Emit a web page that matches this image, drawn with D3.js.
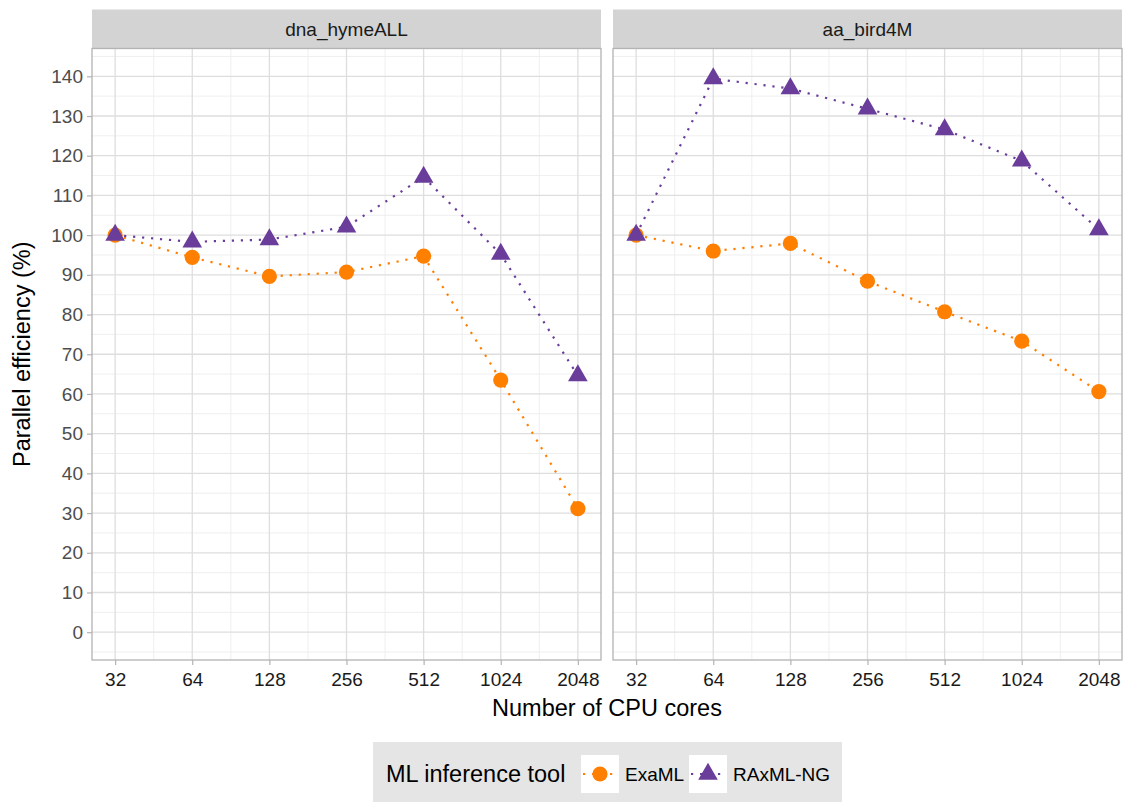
<!DOCTYPE html>
<html>
<head>
<meta charset="utf-8">
<script src="https://cdn.jsdelivr.net/npm/d3@7"></script>
<style>
  html, body { margin: 0; padding: 0; background: #fff; }
  svg { display: block; font-family: "Liberation Sans", Arial, Helvetica, sans-serif; }
</style>
</head>
<body>
<svg id="chart" width="1130" height="802"></svg>
<script>
// Parallel efficiency of two ML inference tools, per dataset
const datasets = ["dna_hymeALL", "aa_bird4M"];
const cores = [32, 64, 128, 256, 512, 1024, 2048];
const tools = ["ExaML", "RAxML-NG"];
const toolColors = ["#ff7f00", "#6a3d9a"];

const examlHyme = [100, 94.4, 89.6, 90.7, 94.7, 63.5, 31.1];
const raxmlHyme = [100, 98.3, 98.9, 102.1, 114.6, 95.2, 64.6];
const examlBird = [100, 96.0, 97.9, 88.4, 80.7, 73.3, 60.6];
const raxmlBird = [100, 139.4, 136.9, 131.8, 126.6, 118.7, 101.4];

const yTicks = [0, 10, 20, 30, 40, 50, 60, 70, 80, 90, 100, 110, 120, 130, 140];
const yMinor = [-5, 5, 15, 25, 35, 45, 55, 65, 75, 85, 95, 105, 115, 125, 135, 145];

const seriesByPanel = [
  [examlHyme, raxmlHyme],
  [examlBird, raxmlBird]
];

const svg = d3.select("#chart");

// Layout
const panelTop = 48.5, panelBottom = 660, stripTop = 9.5;
const panelLefts = [92, 613];
const panelWidth = 509;

const y = d3.scaleLinear().domain([-7, 147]).range([panelBottom, panelTop]);

const logMin = Math.log2(32), logMax = Math.log2(2048);
const pad = (logMax - logMin) * 0.05;

const dotted = "2.2 6.8";

const triangle = d3.symbol().type(d3.symbolTriangle).size(167);

panelLefts.forEach((left, pi) => {
  const x = d3.scaleLog().base(2)
    .domain([Math.pow(2, logMin - pad), Math.pow(2, logMax + pad)])
    .range([left, left + panelWidth]);

  const g = svg.append("g");

  // panel background
  g.append("rect")
    .attr("x", left).attr("y", panelTop)
    .attr("width", panelWidth).attr("height", panelBottom - panelTop)
    .attr("fill", "#fff");

  // minor grid
  const xMinor = d3.range(cores.length - 1).map(i => Math.sqrt(cores[i] * cores[i + 1]));
  g.selectAll(".ymin").data(yMinor).enter().append("line")
    .attr("x1", left).attr("x2", left + panelWidth)
    .attr("y1", d => y(d)).attr("y2", d => y(d))
    .attr("stroke", "#ededed").attr("stroke-width", 0.9);
  g.selectAll(".xmin").data(xMinor).enter().append("line")
    .attr("y1", panelTop).attr("y2", panelBottom)
    .attr("x1", d => x(d)).attr("x2", d => x(d))
    .attr("stroke", "#ededed").attr("stroke-width", 0.9);

  // major grid
  g.selectAll(".ymaj").data(yTicks).enter().append("line")
    .attr("x1", left).attr("x2", left + panelWidth)
    .attr("y1", d => y(d)).attr("y2", d => y(d))
    .attr("stroke", "#dedede").attr("stroke-width", 1.3);
  g.selectAll(".xmaj").data(cores).enter().append("line")
    .attr("y1", panelTop).attr("y2", panelBottom)
    .attr("x1", d => x(d)).attr("x2", d => x(d))
    .attr("stroke", "#dedede").attr("stroke-width", 1.3);

  // strip
  g.append("rect")
    .attr("x", left).attr("y", stripTop)
    .attr("width", panelWidth).attr("height", panelTop - stripTop)
    .attr("fill", "#d3d3d3");
  g.append("text")
    .attr("x", left + panelWidth / 2).attr("y", (stripTop + panelTop) / 2)
    .attr("dy", "0.35em").attr("text-anchor", "middle")
    .attr("font-size", 19).attr("fill", "#1a1a1a")
    .text(datasets[pi]);

  // series lines then points
  const series = seriesByPanel[pi];
  series.forEach((vals, si) => {
    const line = d3.line().x((d, i) => x(cores[i])).y(d => y(d));
    g.append("path").datum(vals)
      .attr("d", line).attr("fill", "none")
      .attr("stroke", toolColors[si]).attr("stroke-width", 2.2)
      .attr("stroke-dasharray", dotted);
  });
  series.forEach((vals, si) => {
    if (si === 0) {
      g.selectAll(null).data(vals).enter().append("circle")
        .attr("cx", (d, i) => x(cores[i])).attr("cy", d => y(d))
        .attr("r", 7.6).attr("fill", toolColors[si]);
    } else {
      g.selectAll(null).data(vals).enter().append("path")
        .attr("d", triangle)
        .attr("transform", (d, i) => `translate(${x(cores[i])},${y(d)})`)
        .attr("fill", toolColors[si]);
    }
  });

  // panel border
  g.append("rect")
    .attr("x", left).attr("y", panelTop)
    .attr("width", panelWidth).attr("height", panelBottom - panelTop)
    .attr("fill", "none").attr("stroke", "#b3b3b3").attr("stroke-width", 1.3);

  // x axis
  const xAxis = d3.axisBottom(x).tickValues(cores).tickFormat(d3.format("d"))
    .tickSizeInner(5).tickSizeOuter(0).tickPadding(7.5);
  const ax = g.append("g").attr("transform", `translate(0,${panelBottom})`).call(xAxis);
  ax.select(".domain").remove();
  ax.selectAll(".tick line").attr("stroke", "#b3b3b3").attr("stroke-width", 1.2);
  ax.selectAll(".tick text").attr("font-size", 19).attr("fill", "#1a1a1a")
    .attr("font-family", "Liberation Sans, Arial, sans-serif");

  // y axis (left panel only)
  if (pi === 0) {
    const yAxis = d3.axisLeft(y).tickValues(yTicks).tickFormat(d3.format("d"))
      .tickSizeInner(5).tickSizeOuter(0).tickPadding(4);
    const ay = g.append("g").attr("transform", `translate(${left},0)`).call(yAxis);
    ay.select(".domain").remove();
    ay.selectAll(".tick line").attr("stroke", "#b3b3b3").attr("stroke-width", 1.2);
    ay.selectAll(".tick text").attr("font-size", 19).attr("fill", "#4d4d4d")
      .attr("font-family", "Liberation Sans, Arial, sans-serif");
  }
});

// axis titles
svg.append("text")
  .attr("x", (panelLefts[0] + panelLefts[1] + panelWidth) / 2).attr("y", 716)
  .attr("text-anchor", "middle").attr("font-size", 23.5).attr("fill", "#000")
  .text("Number of CPU cores");
svg.append("text")
  .attr("transform", `translate(30,${(panelTop + panelBottom) / 2}) rotate(-90)`)
  .attr("text-anchor", "middle").attr("font-size", 23.5).attr("fill", "#000")
  .text("Parallel efficiency (%)");

// legend
const lg = svg.append("g");
lg.append("rect").attr("x", 373).attr("y", 742).attr("width", 469).attr("height", 62)
  .attr("fill", "#e5e5e5");
lg.append("text").attr("x", 386).attr("y", 774).attr("dy", "0.35em")
  .attr("font-size", 23.5).attr("fill", "#000").text("ML inference tool");

const keyX = [581, 689];
const labelX = [625, 733];
tools.forEach((t, i) => {
  const kx = keyX[i], ky = 755, ks = 38;
  lg.append("rect").attr("x", kx).attr("y", ky).attr("width", ks).attr("height", ks).attr("fill", "#fff");
  lg.append("line").attr("x1", kx + 2).attr("x2", kx + ks - 2)
    .attr("y1", ky + ks / 2).attr("y2", ky + ks / 2)
    .attr("stroke", toolColors[i]).attr("stroke-width", 2.2)
    .attr("stroke-dasharray", dotted);
  if (i === 0) {
    lg.append("circle").attr("cx", kx + ks / 2).attr("cy", ky + ks / 2).attr("r", 7.6)
      .attr("fill", toolColors[i]);
  } else {
    lg.append("path").attr("d", triangle)
      .attr("transform", `translate(${kx + ks / 2},${ky + ks / 2})`)
      .attr("fill", toolColors[i]);
  }
  lg.append("text").attr("x", labelX[i]).attr("y", ky + ks / 2).attr("dy", "0.35em")
    .attr("font-size", 19).attr("fill", "#000").text(t);
});
</script>
</body>
</html>
